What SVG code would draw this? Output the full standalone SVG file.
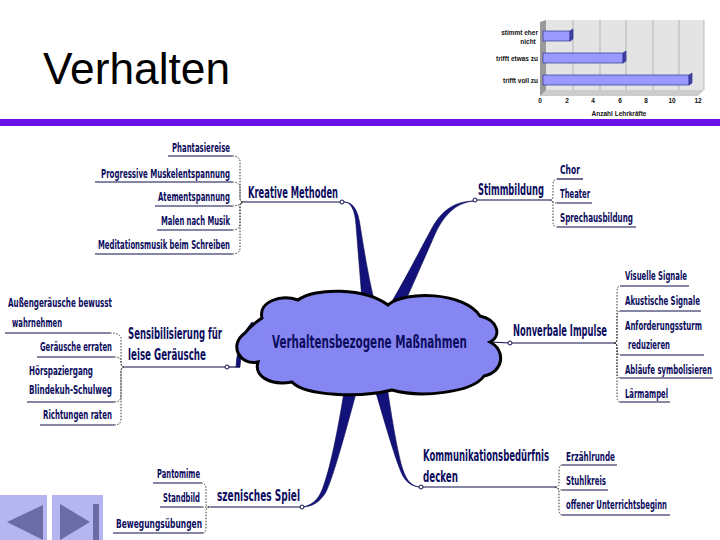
<svg xmlns="http://www.w3.org/2000/svg" width="720" height="540" viewBox="0 0 720 540">
<style>
.t{font-family:"DejaVu Sans Condensed","Liberation Sans",Arial,sans-serif;font-stretch:condensed;font-weight:bold;fill:#0c0c5e}
.m{font-size:15.5px}
.s{font-size:12.5px}
.u{stroke:#0c0c4a;stroke-width:1.2;fill:none}
.d{stroke:#333;stroke-width:1;fill:none;stroke-dasharray:1.5 1.5}
.sp{fill:#12127a;stroke:#0a0a50;stroke-width:0.6}
.c{fill:#fff;stroke:#0c0c4a;stroke-width:1}
.ch{font-family:"Liberation Sans",Arial,sans-serif;font-weight:bold;font-size:6.5px;fill:#111}
</style>
<rect width="720" height="540" fill="#fff"/>
<text x="43" y="84" font-family="Liberation Sans, Arial, sans-serif" font-size="44" textLength="187" lengthAdjust="spacingAndGlyphs" fill="#000">Verhalten</text>
<rect x="0" y="119" width="720" height="7" fill="#6a10e8"/>

<g id="chart">
<polygon points="540,22 546,20 546,93 540,96" fill="#9a9a9a"/>
<polygon points="546,20 704,20 704,90 546,90" fill="#e4e4e4"/>
<polygon points="540,96 546,90 704,90 698,96" fill="#cccccc"/>
<g stroke="#a0a0a0" stroke-width="0.7">
<line x1="573" y1="20" x2="573" y2="90"/><line x1="600" y1="20" x2="600" y2="90"/>
<line x1="626" y1="20" x2="626" y2="90"/><line x1="653" y1="20" x2="653" y2="90"/>
<line x1="679" y1="20" x2="679" y2="90"/><line x1="704" y1="20" x2="704" y2="90"/>
</g>
<g fill="#9999ff" stroke="#333399" stroke-width="0.7">
<rect x="543" y="31" width="27" height="10"/><polygon points="570,31 573,29 573,39 570,41" fill="#4040a0"/>
<rect x="543" y="53" width="80" height="10"/><polygon points="623,53 626,51 626,61 623,63" fill="#4040a0"/>
<rect x="543" y="75" width="146" height="10"/><polygon points="689,75 692,73 692,83 689,85" fill="#4040a0"/>
</g>
<text class="ch" x="538" y="35" text-anchor="end">stimmt eher</text>
<text class="ch" x="528" y="44" text-anchor="middle">nicht</text>
<text class="ch" x="538" y="61" text-anchor="end">trifft etwas zu</text>
<text class="ch" x="538" y="83" text-anchor="end">trifft voll zu</text>
<g class="ch" text-anchor="middle">
<text x="540" y="103">0</text><text x="567" y="103">2</text><text x="593" y="103">4</text>
<text x="620" y="103">6</text><text x="646" y="103">8</text><text x="672" y="103">10</text><text x="698" y="103">12</text>
</g>
<text class="ch" x="619" y="116" text-anchor="middle">Anzahl Lehrkräfte</text>
</g>

<g id="connectors">
<path class="sp" d="M344 202 C351 202 355 210 356 225 C358 250 360 275 362 300 L374 300 C368 275 364 250 360 225 C358 210 353 202 344 202 Z"/>
<path class="sp" d="M475 201 C455 201 442 210 432 228 C420 250 405 280 388 308 L405 302 C415 280 428 250 436 232 C446 212 458 202 475 201 Z"/>
<path class="sp" d="M345 386 L358 386 C346 430 334 475 326 492 C320 502 312 507 302 507 C311 506 318 500 322 490 C330 470 338 430 345 386 Z"/>
<path class="sp" d="M374 386 L387 386 C392 420 398 455 403 470 C407 482 413 487 421 487 C412 487 405 482 401 472 C394 455 384 420 374 386 Z"/>
<path class="sp" d="M258 326 C246 334 241 350 240 367 L236 367 C237 348 242 334 252 322 Z"/>
<line class="u" x1="227" y1="367" x2="240" y2="367"/>
<line class="u" x1="490" y1="342" x2="510" y2="343"/>
</g>

<g id="cloud">
<path d="M262 318 C258 302 280 294 298 300 C315 287 365 288 388 305 C405 290 465 292 480 316 C498 320 502 336 490 342 C506 350 504 372 484 376 C472 393 420 398 392 390 C360 398 305 396 292 382 C268 386 254 375 258 362 C240 366 228 345 245 333 C250 326 256 322 262 318 Z" fill="#8686f2" stroke="#000" stroke-width="3"/>
<text class="t" x="272" y="348" font-size="18.5" textLength="195" lengthAdjust="spacingAndGlyphs" fill="#0a0a50">Verhaltensbezogene Maßnahmen</text>
</g>

<g id="kreative">
<text class="t m" x="248" y="198" textLength="90" lengthAdjust="spacingAndGlyphs">Kreative Methoden</text>
<line class="u" x1="243" y1="202" x2="342" y2="202"/>
<circle class="c" cx="342" cy="202" r="2"/>
<text class="t s" x="172" y="152" textLength="58" lengthAdjust="spacingAndGlyphs">Phantasiereise</text>
<text class="t s" x="101" y="178" textLength="129" lengthAdjust="spacingAndGlyphs">Progressive Muskelentspannung</text>
<text class="t s" x="158" y="201" textLength="72" lengthAdjust="spacingAndGlyphs">Atementspannung</text>
<text class="t s" x="161" y="225" textLength="69" lengthAdjust="spacingAndGlyphs">Malen nach Musik</text>
<text class="t s" x="98" y="249" textLength="132" lengthAdjust="spacingAndGlyphs">Meditationsmusik beim Schreiben</text>
<line class="u" x1="168" y1="156" x2="232" y2="156"/>
<line class="u" x1="95" y1="182" x2="232" y2="182"/>
<line class="u" x1="155" y1="206" x2="232" y2="206"/>
<line class="u" x1="157" y1="230" x2="232" y2="230"/>
<line class="u" x1="95" y1="254" x2="232" y2="254"/>
<path class="d" d="M232 156 Q240 156 240 162 L240 198 Q240 202 243 202"/>
<path class="d" d="M232 182 Q240 182 240 188 L240 198 Q240 202 243 202"/>
<path class="d" d="M232 206 Q240 206 243 202"/>
<path class="d" d="M232 230 Q240 230 240 224 L240 206 Q240 202 243 202"/>
<path class="d" d="M232 254 Q240 254 240 248 L240 206 Q240 202 243 202"/>
</g>

<g id="stimmbildung">
<text class="t m" x="478" y="195" textLength="66" lengthAdjust="spacingAndGlyphs">Stimmbildung</text>
<line class="u" x1="475" y1="200" x2="550" y2="200"/>
<circle class="c" cx="475" cy="200" r="2"/>
<text class="t s" x="560" y="174" textLength="20" lengthAdjust="spacingAndGlyphs">Chor</text>
<text class="t s" x="560" y="198" textLength="30" lengthAdjust="spacingAndGlyphs">Theater</text>
<text class="t s" x="560" y="222" textLength="73" lengthAdjust="spacingAndGlyphs">Sprechausbildung</text>
<line class="u" x1="557" y1="179" x2="583" y2="179"/>
<line class="u" x1="557" y1="203" x2="592" y2="203"/>
<line class="u" x1="557" y1="227" x2="636" y2="227"/>
<path class="d" d="M550 200 Q553 200 553 196 L553 185 Q553 179 557 179"/>
<path class="d" d="M550 200 Q553 203 557 203"/>
<path class="d" d="M550 200 Q553 200 553 204 L553 221 Q553 227 557 227"/>
</g>

<g id="nonverbal">
<text class="t m" x="513" y="336" textLength="94" lengthAdjust="spacingAndGlyphs">Nonverbale Impulse</text>
<line class="u" x1="510" y1="343" x2="614" y2="343"/>
<circle class="c" cx="510" cy="343" r="2"/>
<text class="t s" x="625" y="280" textLength="62" lengthAdjust="spacingAndGlyphs">Visuelle Signale</text>
<text class="t s" x="625" y="305" textLength="75" lengthAdjust="spacingAndGlyphs">Akustische Signale</text>
<text class="t s" x="625" y="330" textLength="77" lengthAdjust="spacingAndGlyphs">Anforderungssturm</text>
<text class="t s" x="628" y="349" textLength="42" lengthAdjust="spacingAndGlyphs">reduzieren</text>
<text class="t s" x="625" y="374" textLength="87" lengthAdjust="spacingAndGlyphs">Abläufe symbolisieren</text>
<text class="t s" x="625" y="398" textLength="43" lengthAdjust="spacingAndGlyphs">Lärmampel</text>
<line class="u" x1="620" y1="286" x2="689" y2="286"/>
<line class="u" x1="620" y1="311" x2="701" y2="311"/>
<line class="u" x1="620" y1="355" x2="704" y2="355"/>
<line class="u" x1="620" y1="378" x2="713" y2="378"/>
<line class="u" x1="620" y1="402" x2="670" y2="402"/>
<path class="d" d="M614 343 Q617 343 617 339 L617 292 Q617 286 620 286"/>
<path class="d" d="M614 343 Q617 343 617 339 L617 317 Q617 311 620 311"/>
<path class="d" d="M614 343 Q617 343 617 347 L617 349 Q617 355 620 355"/>
<path class="d" d="M614 343 Q617 343 617 347 L617 372 Q617 378 620 378"/>
<path class="d" d="M614 343 Q617 343 617 347 L617 396 Q617 402 620 402"/>
</g>

<g id="kommunikation">
<text class="t m" x="423" y="461" textLength="126" lengthAdjust="spacingAndGlyphs">Kommunikationsbedürfnis</text>
<text class="t m" x="423" y="482" textLength="35" lengthAdjust="spacingAndGlyphs">decken</text>
<line class="u" x1="421" y1="487" x2="555" y2="487"/>
<circle class="c" cx="421" cy="487" r="2"/>
<text class="t s" x="566" y="461" textLength="49" lengthAdjust="spacingAndGlyphs">Erzählrunde</text>
<text class="t s" x="566" y="485" textLength="40" lengthAdjust="spacingAndGlyphs">Stuhlkreis</text>
<text class="t s" x="566" y="509" textLength="101" lengthAdjust="spacingAndGlyphs">offener Unterrichtsbeginn</text>
<line class="u" x1="562" y1="465" x2="617" y2="465"/>
<line class="u" x1="562" y1="490" x2="608" y2="490"/>
<line class="u" x1="562" y1="515" x2="670" y2="515"/>
<path class="d" d="M555 487 Q559 487 559 483 L559 471 Q559 465 562 465"/>
<path class="d" d="M555 487 Q559 490 562 490"/>
<path class="d" d="M555 487 Q559 487 559 491 L559 509 Q559 515 562 515"/>
</g>

<g id="szenisch">
<text class="t m" x="217" y="501" textLength="83" lengthAdjust="spacingAndGlyphs">szenisches Spiel</text>
<line class="u" x1="210" y1="507" x2="302" y2="507"/>
<circle class="c" cx="302" cy="507" r="2"/>
<text class="t s" x="157" y="478" textLength="43" lengthAdjust="spacingAndGlyphs">Pantomime</text>
<text class="t s" x="163" y="502" textLength="37" lengthAdjust="spacingAndGlyphs">Standbild</text>
<text class="t s" x="116" y="528" textLength="86" lengthAdjust="spacingAndGlyphs">Bewegungsübungen</text>
<line class="u" x1="153" y1="483" x2="201" y2="483"/>
<line class="u" x1="160" y1="507" x2="202" y2="507"/>
<line class="u" x1="113" y1="533" x2="203" y2="533"/>
<path class="d" d="M201 483 Q206 483 206 489 L206 503 Q206 507 210 507"/>
<path class="d" d="M202 507 L210 507"/>
<path class="d" d="M203 533 Q206 533 206 527 L206 511 Q206 507 210 507"/>
</g>

<g id="sensibilisierung">
<text class="t m" x="128" y="339" textLength="94" lengthAdjust="spacingAndGlyphs">Sensibilisierung für</text>
<text class="t m" x="128" y="360" textLength="78" lengthAdjust="spacingAndGlyphs">leise Geräusche</text>
<line class="u" x1="125" y1="367" x2="227" y2="367"/>
<circle class="c" cx="227" cy="367" r="2"/>
<text class="t s" x="8" y="307" textLength="104" lengthAdjust="spacingAndGlyphs">Außengeräusche bewusst</text>
<text class="t s" x="12" y="327" textLength="50" lengthAdjust="spacingAndGlyphs">wahrnehmen</text>
<text class="t s" x="40" y="351" textLength="72" lengthAdjust="spacingAndGlyphs">Geräusche erraten</text>
<text class="t s" x="29" y="375" textLength="64" lengthAdjust="spacingAndGlyphs">Hörspaziergang</text>
<text class="t s" x="29" y="394" textLength="83" lengthAdjust="spacingAndGlyphs">Blindekuh-Schulweg</text>
<text class="t s" x="43" y="419" textLength="69" lengthAdjust="spacingAndGlyphs">Richtungen raten</text>
<line class="u" x1="5" y1="333" x2="110" y2="333"/>
<line class="u" x1="37" y1="357" x2="114" y2="357"/>
<line class="u" x1="27" y1="402" x2="114" y2="402"/>
<line class="u" x1="40" y1="425" x2="114" y2="425"/>
<path class="d" d="M110 333 Q121 333 121 339 L121 363 Q121 367 125 367"/>
<path class="d" d="M114 357 Q121 357 121 361 L121 363 Q121 367 125 367"/>
<path class="d" d="M114 402 Q121 402 121 396 L121 371 Q121 367 125 367"/>
<path class="d" d="M114 425 Q121 425 121 419 L121 371 Q121 367 125 367"/>
</g>

<g id="nav">
<rect x="0" y="495" width="47" height="45" fill="#b5b5f2"/>
<polygon points="7,522 43,505 43,540" fill="#6b6ba8"/>
<rect x="52" y="495" width="51" height="45" fill="#b5b5f2"/>
<polygon points="60,504 90,522 60,540" fill="#6b6ba8"/>
<rect x="93" y="504" width="6" height="36" fill="#6b6ba8"/>
</g>
</svg>
